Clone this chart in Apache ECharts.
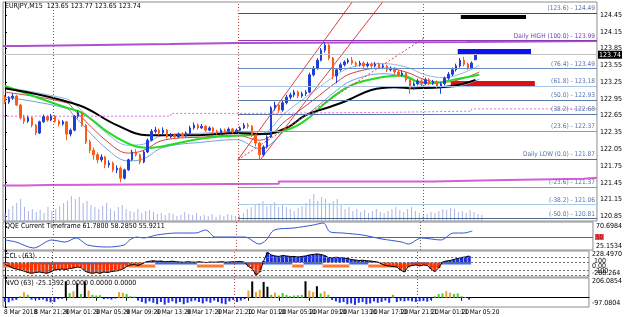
<!DOCTYPE html>
<html>
<head>
<meta charset="utf-8">
<script src="https://cdn.jsdelivr.net/npm/echarts@6.0.0/dist/echarts.min.js"></script>
<style>
html, body { margin: 0; padding: 0; background: #fff; }
#chart { width: 625px; height: 317px; }
</style>
</head>
<body>
<div id="chart"></div>
<script>
// bar slots incl. empty chart shift on the right
const slotCount = 154;
const slots = Array.from({ length: slotCount }, (_, i) => i);

const timeLabels = ['8 Mar 2018', '8 Mar 21:20', '9 Mar 01:20', '9 Mar 05:20', '9 Mar 09:20', '9 Mar 13:20',
  '9 Mar 17:20', '9 Mar 21:20', '10 Mar 01:20', '10 Mar 05:20', '10 Mar 09:20', '10 Mar 13:20',
  '10 Mar 17:20', '10 Mar 21:20', '11 Mar 01:20', '11 Mar 05:20'];
const labelStep = 8;

const priceTicks = [124.45, 124.15, 123.85, 123.55, 123.25, 122.95, 122.65, 122.35, 122.05, 121.75, 121.45, 121.15, 120.85];
const lastPrice = 123.74;

// [open, close, low, high]
const candles = [
  [122.98,122.89,122.86,123.02],[122.89,122.97,122.86,123.00],[122.97,123.00,122.93,123.05],[123.00,122.84,122.82,123.02],
  [122.84,122.61,122.58,122.86],[122.61,122.55,122.50,122.66],[122.55,122.61,122.52,122.65],[122.61,122.48,122.44,122.63],
  [122.48,122.34,122.30,122.50],[122.34,122.54,122.32,122.56],[122.54,122.63,122.52,122.67],[122.63,122.57,122.54,122.66],
  [122.57,122.64,122.55,122.68],[122.64,122.55,122.52,122.66],[122.55,122.50,122.46,122.58],[122.50,122.54,122.47,122.57],
  [122.54,122.32,122.21,122.55],[122.32,122.39,122.28,122.42],[122.39,122.64,122.37,122.66],[122.64,122.70,122.60,122.74],
  [122.70,122.48,122.45,122.72],[122.48,122.18,122.14,122.50],[122.18,122.03,121.98,122.22],[122.03,121.95,121.86,122.08],
  [121.95,121.86,121.80,121.99],[121.86,121.91,121.82,121.96],[121.91,121.77,121.71,121.93],[121.77,121.80,121.72,121.85],
  [121.80,121.68,121.64,121.83],[121.68,121.71,121.62,121.76],[121.71,121.53,121.46,121.74],[121.53,121.68,121.51,121.70],
  [121.68,121.86,121.66,121.88],[121.86,122.00,121.84,122.04],[122.00,121.95,121.92,122.05],[121.95,121.82,121.78,121.97],
  [121.82,122.00,121.80,122.03],[122.00,122.21,121.98,122.24],[122.21,122.37,122.19,122.41],[122.37,122.39,122.33,122.45],
  [122.39,122.34,122.30,122.42],[122.34,122.39,122.32,122.44],[122.39,122.27,122.24,122.41],[122.27,122.30,122.25,122.34],
  [122.30,122.27,122.23,122.33],[122.27,122.32,122.25,122.35],[122.32,122.29,122.26,122.35],[122.29,122.34,122.27,122.37],
  [122.34,122.43,122.32,122.47],[122.43,122.48,122.40,122.53],[122.48,122.43,122.40,122.51],[122.43,122.46,122.41,122.50],
  [122.46,122.39,122.36,122.48],[122.39,122.43,122.37,122.46],[122.43,122.37,122.34,122.45],[122.37,122.34,122.31,122.40],
  [122.34,122.39,122.32,122.42],[122.39,122.37,122.34,122.42],[122.37,122.41,122.35,122.44],[122.41,122.36,122.33,122.43],
  [122.36,122.39,122.34,122.42],[122.39,122.43,122.37,122.46],[122.43,122.48,122.41,122.52],[122.48,122.46,122.42,122.52],
  [122.46,122.30,122.27,122.48],[122.30,122.16,122.10,122.32],[122.16,121.95,121.86,122.18],[121.95,122.09,121.92,122.12],
  [122.09,122.27,122.06,122.30],[122.27,122.79,122.25,122.82],[122.79,122.84,122.74,122.90],[122.84,122.75,122.70,122.88],
  [122.75,122.88,122.72,122.92],[122.88,122.98,122.85,123.02],[122.98,123.02,122.94,123.06],[123.02,123.07,122.98,123.11],
  [123.07,123.00,122.96,123.10],[123.00,123.04,122.97,123.08],[123.04,123.07,123.00,123.11],[123.07,123.38,123.05,123.42],
  [123.38,123.50,123.35,123.54],[123.50,123.64,123.47,123.68],[123.64,123.82,123.62,123.86],[123.82,123.91,123.78,123.96],
  [123.91,123.68,123.64,123.93],[123.68,123.36,123.30,123.70],[123.36,123.47,123.23,123.50],[123.47,123.56,123.44,123.60],
  [123.56,123.61,123.53,123.64],[123.61,123.64,123.58,123.68],[123.64,123.59,123.56,123.70],[123.59,123.56,123.52,123.62],
  [123.56,123.59,123.53,123.63],[123.59,123.54,123.50,123.62],[123.54,123.57,123.51,123.61],[123.57,123.54,123.50,123.60],
  [123.54,123.57,123.51,123.61],[123.57,123.52,123.48,123.60],[123.52,123.54,123.49,123.58],[123.54,123.47,123.43,123.56],
  [123.47,123.50,123.44,123.53],[123.50,123.43,123.39,123.52],[123.43,123.38,123.34,123.46],[123.38,123.41,123.35,123.45],
  [123.41,123.29,123.25,123.43],[123.29,123.14,123.04,123.31],[123.14,123.22,123.11,123.26],[123.22,123.27,123.19,123.31],
  [123.27,123.22,123.18,123.30],[123.22,123.29,123.20,123.33],[123.29,123.23,123.19,123.32],[123.23,123.25,123.20,123.29],
  [123.25,123.18,123.14,123.28],[123.18,123.22,123.04,123.25],[123.22,123.32,123.19,123.35],[123.32,123.39,123.29,123.43],
  [123.39,123.47,123.36,123.51],[123.47,123.54,123.44,123.58],[123.54,123.64,123.51,123.68],[123.64,123.57,123.53,123.70],
  [123.57,123.50,123.47,123.60],[123.50,123.59,123.48,123.62],[123.65,123.74,123.65,123.77]
];

const volume = [8,12,15,18,22,14, 10,12,9,11,8,14,10, 12,15,18,20,25,22,24,18,
  20,16,14,12,15,18,12,10,14,16, 12,10,9,12,8,10,11,9,7,8, 6,8,7,5,6,9,7,6,8,5,
  6,5,7,4,6,5,7,6,5,6, 8,12,14,16,18,20,15,17,19,14, 16,14,12,10,13,15,18,22,27,20,
  24,22,18,20,22,16,12,14,10,12, 9,11,8,10,12,9,8,10,12,14, 11,9,12,14,10,8,6,7,9,8,
  10,12,11,13,12,9,10,8,11,9,7,6];

// moving averages, [bar, price]
const maSlow = [[0,123.14],[19,122.84],[29,122.48],[37,122.30],[50,122.30],[60,122.34],[67,122.32],[73,122.43],
  [78,122.66],[84,122.80],[89,122.93],[95,123.11],[101,123.16],[106,123.14],[116,123.18],[122,123.29]];
const maGreen = [[0,123.18],[16,122.79],[20,122.70],[27,122.34],[33,122.12],[37,122.07],[45,122.16],[52,122.25],
  [60,122.29],[67,122.32],[73,122.39],[78,122.57],[84,122.93],[90,123.20],[98,123.34],[103,123.37],[107,123.26],
  [111,123.23],[116,123.29],[123,123.38]];
const maRed = [[0,123.07],[16,122.88],[18,122.75],[27,122.16],[32,121.98],[36,122.03],[41,122.21],[52,122.27],
  [60,122.30],[66,122.21],[73,122.57],[80,122.93],[86,123.25],[90,123.41],[98,123.50],[104,123.43],[109,123.29],
  [114,123.25],[119,123.32],[123,123.43]];
const bandUpper = [[0,123.16],[16,122.95],[18,122.86],[27,122.30],[32,122.12],[36,122.14],[41,122.30],[52,122.34],
  [60,122.37],[66,122.33],[73,122.72],[80,123.08],[86,123.38],[90,123.52],[98,123.58],[104,123.52],[109,123.38],
  [114,123.33],[119,123.42],[123,123.55]];
const bandLower = [[0,122.98],[16,122.78],[18,122.64],[27,122.02],[32,121.84],[36,121.88],[41,122.08],[52,122.18],
  [60,122.22],[66,122.06],[73,122.40],[80,122.76],[86,123.10],[90,123.28],[98,123.40],[104,123.33],[109,123.18],
  [114,123.15],[119,123.20],[123,123.30]];

// stepped levels
const highSteps = [[-0.5,123.895],[4.4,123.913],[23.5,123.93],[42.7,123.95],[60.4,123.967],[119.7,123.985],[153.5,123.985]];
const lowSteps = [[-0.5,121.40],[5,121.41],[11,121.42],[34,121.43],[71,121.47],[111,121.50],[130,121.52],[150,121.54],[153.5,121.54]];
const pivotSteps = [[-0.5,122.64],[43,122.69],[63,122.71],[101,122.73],[121,122.77],[153.5,122.77]];

// fibo
const fibStart = 60.4;
const fibLevels = [124.49, 123.99, 123.49, 123.18, 122.93, 122.68, 122.37, 121.87, 121.37, 121.06, 120.81];
const fibNames = ['(123.6)', 'Daily HIGH (100.0)', '(76.4)', '(61.8)', '(50.0)', '(38.2)', '(23.6)',
  'Daily LOW (0.0)', '(-23.6)', '(-38.2)', '(-50.0)'];

const channelA = [[60.4,121.86],[90,124.68]];
const channelB = [[66.2,121.86],[97.9,124.68]];
const channelMid = [[60.4,121.86],[108.7,124.04]];

// [x1, x2, low, high]
const blackZone = [118.2, 135.1, 124.38, 124.45];
const blueZone = [117.4, 136.4, 123.75, 123.84];
const redZone = [115.6, 137.4, 123.18, 123.27];

const daySeps = [12.5, 60.4, 108.5];

// QQE
const qqe = [[0,44.3],[2.9,40.4],[7.5,29.0],[12.2,44.3],[15.7,40.4],[18.6,48.1],[21.6,34.7],[26.8,30.9],[31.1,34.7],
  [32.6,44.3],[34.4,50.0],[36.2,48.1],[39.6,53.8],[44.7,57.6],[49.8,57.6],[52.4,63.4],[54.9,50.0],[60,50.0],[62.6,50.0],
  [66.4,36.6],[68.2,44.3],[70.3,63.4],[75.4,67.2],[80.5,72.9],[83.1,76.8],[84.9,59.6],[88.2,57.6],[93.3,53.8],
  [98.4,46.2],[103.6,40.4],[105.3,36.6],[108.7,48.1],[113.8,44.3],[117.1,57.6],[119.7,57.6],[122,61.5]];
const qqeLevel = 50;
const qqeTicks = [70.6984, 25.1534];

// CCI
const cci = [-40,-70,-110,-130,-150, -170,-200,-215,-200,-190,-200,-215,-190, -150,-140,-130,-140,-120,-110, -90,-100,
  -170,-200,-215,-200,-215,-190,-200,-180, -170,-160,-130, -80,-50,-40,-60,-30,
  10,25,35,25,30,15,20,25,15, 10,5,15,10,5,15,5,0,10,5,10,15,5,10,15, 15,20,5,
  -80,-120,-245,-190,30,200,150, 130,120,140,130,120, 120,110,120,130, 150,160,170,160,140,
  100,90,105,95,90,80, 60,50,40,45,35,30,20,10, -30,-60,-70,-80,-90, -150,-190,
  -80,-60,-50,-70,-50,-60, -130,-180,-110, 10,30,40,60, 80,100,110,130];
const cciTrend = [[-0.5,6.5,-1],[6.5,32.5,1],[32.5,39.5,-1],[39.5,50.5,1],[50.5,57.5,-1],[57.5,75.5,1],[75.5,78.5,-1],
  [78.5,83.5,1],[83.5,90.5,-1],[90.5,95.5,1],[95.5,106.5,-1],[106.5,111.5,1],[111.5,114.5,-1],[114.5,122.5,1]];
const cciLevels = [100, 0, -150, -250];
const cciTicks = [228.497, 0, -288.264];
const cciTickText = ['228.4970', '0.00', '-288.264'];
const cciExtraTicks = [100, -100];

// NVO
const nvo = [-41,-48,-30,-23,15,58,30,-20,-15,-23,-19,-38,-48,-45,-15,-11,
  172,48,68,150,38,170,75,30,23,26,-15,-11,-19,-8,58,52,38,15,11,
  -30,-45,-60,-38,-53,-68,-45,-72,-53,-38,-60,-45,-68,-53,-38,-30,-45,-60,
  -38,-53,-30,-45,-60,-68,-38,-23,-45,-30, -15,
  75,170,60,83,165,115,30,53,23,49,30,19,23,26,30,172,75,60,120,45,68,30,
  -23,-38,-53,-45,-68,-60,-75,-53,-45,-68,-60,-38,-53,-45,-30,-53,29,-45,-30,-38,
  -30,-38,-45,-38,-34,-41,-23, 15,38,45,68,53,38,45,15,8,-20];
const nvoTicks = [206.0854, 0, -97.0804];
const nvoTickText = ['206.0854', '0.00', '-97.0804'];

const font = 'Liberation Sans Narrow, DejaVu Sans Condensed, Liberation Sans, sans-serif';
const chart = echarts.init(document.getElementById('chart'));

const sepLine = (x, k) => ({ xAxis: x, label: { show: false }, lineStyle: { color: k === 1 ? '#c05050' : '#606060', type: [1, 2], width: 1 } });
const shiftRich = {
  dn: { fontSize: 7, fontFamily: font, color: '#000', padding: [7, 0, 0, 0] },
  up: { fontSize: 7, fontFamily: font, color: '#000', padding: [0, 0, 7, 0] },
  md: { fontSize: 7, fontFamily: font, color: '#000' }
};
const rightAxis = (grid, min, max, ticks, fmt) => ({
  type: 'value', gridIndex: grid, position: 'right', min: min, max: max, scale: true,
  splitLine: { show: false },
  axisLine: { show: true, lineStyle: { color: '#000' } },
  axisTick: { show: true, length: 2, customValues: ticks, lineStyle: { color: '#000' } },
  axisLabel: {
    customValues: ticks, fontSize: 7, fontFamily: font, color: '#000', margin: 3, formatter: fmt, rich: shiftRich,
    showMinLabel: true, showMaxLabel: true, hideOverlap: false
  }
});
const plainLine = (data, color, width, extra) => Object.assign({
  type: 'line', xAxisIndex: 1, yAxisIndex: 0, data: data, showSymbol: false, symbol: 'none',
  lineStyle: { color: color, width: width }, silent: true, z: 3
}, extra || {});
const zoneArea = (z, color) => [{ coord: [z[0], z[3]], itemStyle: { color: color } }, { coord: [z[1], z[2]] }];
const fibColors = ['#4c4c6c', '#8a3ab9', '#6a8cc0', '#a8c4e4', '#5a78a8', '#5a78a8', '#8898d0', '#5a6a98', '#60a8c8', '#a8cce8', '#506890'];
const showTime = i => i % labelStep === 0 && i / labelStep < timeLabels.length;

const option = {
  animation: false,
  textStyle: { fontFamily: font },
  title: [
    { text: 'EURJPY,M15  123.65 123.77 123.65 123.74', left: 5, top: 3 },
    { text: 'QQE Current Timeframe 61.7800 58.2850 55.9211', left: 5, top: 223 },
    { text: 'CCI - (63)', left: 5, top: 253 },
    { text: 'NVO (63) -25.1392 0.0000 0.0000 0.0000', left: 5, top: 280 }
  ].map(t => Object.assign(t, { padding: 0, textStyle: { fontSize: 7, fontWeight: 'normal', color: '#000', fontFamily: font } })),
  grid: [
    { left: 3, right: 20, top: 2, height: 219, show: true, borderColor: '#8c8c8c' },
    { left: 3, right: 20, top: 222, height: 28, show: true, borderColor: '#8c8c8c' },
    { left: 3, right: 20, top: 251, height: 26, show: true, borderColor: '#8c8c8c' },
    { left: 3, right: 20, top: 278, height: 29, show: true, borderColor: '#8c8c8c' },
    { left: 3, right: 20, top: 186, height: 35 }
  ],
  xAxis: [
    { type: 'category', gridIndex: 0, data: slots, show: false },
    { type: 'value', gridIndex: 0, min: -0.5, max: slotCount - 0.5, show: false },
    { type: 'value', gridIndex: 1, min: -0.5, max: slotCount - 0.5, show: false },
    { type: 'category', gridIndex: 2, data: slots, show: false },
    { type: 'value', gridIndex: 2, min: -0.5, max: slotCount - 0.5, show: false },
    {
      type: 'category', gridIndex: 3, data: slots, position: 'bottom',
      axisLine: { show: true, lineStyle: { color: '#000' } },
      axisTick: { show: true, length: 3, alignWithLabel: true, interval: showTime, lineStyle: { color: '#000' } },
      axisLabel: { show: false }
    },
    { type: 'value', gridIndex: 3, min: -0.5, max: slotCount - 0.5, show: false },
    { type: 'category', gridIndex: 4, data: slots, show: false }
  ],
  yAxis: [
    rightAxis(0, 120.765, 124.683, priceTicks, v => '{md|' + v.toFixed(2) + '}'),
    rightAxis(1, 25.1534, 78.67, qqeTicks, v => v < 50 ? '{up|' + v.toFixed(4) + '}' : '{md|' + v.toFixed(4) + '}'),
    rightAxis(2, -288.264, 228.497, cciTicks, v => {
      const t = cciTickText[cciTicks.indexOf(v)] || String(v);
      return v < -200 ? '{up|' + t + '}' : '{dn|' + t + '}';
    }),
    rightAxis(3, -97.0804, 206.0854, nvoTicks, v => {
      const t = nvoTickText[nvoTicks.indexOf(v)] || String(v);
      return v > 100 ? '{dn|' + t + '}' : v < 0 ? '{up|' + t + '}' : '{md|' + t + '}';
    }),
    { type: 'value', gridIndex: 4, min: 0, max: 35, show: false }
  ],
  series: [
    {
      type: 'bar', xAxisIndex: 7, yAxisIndex: 4, data: volume, barWidth: 1,
      itemStyle: { color: '#a9b5e6' }, silent: true, z: 1
    },
    plainLine(bandUpper, '#8fb6e6', 1, { smooth: 0.4 }),
    plainLine(bandLower, '#6f9fdc', 1, { smooth: 0.4 }),
    plainLine(maRed, '#cc4444', 1, { smooth: 0.4 }),
    plainLine(maGreen, '#22dd22', 2, { smooth: 0.4 }),
    plainLine(maSlow, '#000000', 2, { smooth: 0.4 }),
    plainLine(highSteps, '#b050d0', 2, { step: 'end' }),
    plainLine(lowSteps, '#d060d8', 2, { step: 'end' }),
    plainLine(pivotSteps, '#e070e0', 1, { step: 'end', lineStyle: { color: '#e070e0', width: 1, type: [2, 2] } }),
    plainLine(channelA, '#e04040', 1),
    plainLine(channelB, '#e04040', 1),
    plainLine(channelMid, '#e04040', 1, { lineStyle: { color: '#e04040', width: 1, type: [2, 2] } }),
    {
      type: 'line', xAxisIndex: 1, yAxisIndex: 0, data: [], silent: true, z: 2,
      markLine: {
        silent: true, symbol: 'none', animation: false, label: { show: false },
        data: fibLevels.map((v, k) => [
          {
            coord: [fibStart, v], lineStyle: { color: fibColors[k], width: 1, type: 'solid' },
            label: { show: true, position: 'insideEndTop', distance: [2, 1], formatter: fibNames[k] + ' - ' + v.toFixed(2), fontSize: 6.5, fontFamily: font, color: k === 1 ? '#7040b0' : '#5474a8' }
          },
          { coord: [slotCount - 0.5, v] }
        ]).concat(daySeps.map(sepLine)).concat([{
          yAxis: lastPrice, lineStyle: { color: '#c0c0c0', width: 1, type: 'solid' },
          label: { show: true, position: 'end', distance: 1, formatter: lastPrice.toFixed(2), fontSize: 7, fontFamily: font, color: '#fff', backgroundColor: '#000', padding: [1, 1, 0, 1] }
        }])
      },
      markArea: {
        silent: true,
        data: [zoneArea(blackZone, '#000000'), zoneArea(blueZone, '#0a14f0'), zoneArea(redZone, '#e01010')]
      }
    },
    {
      type: 'candlestick', xAxisIndex: 0, yAxisIndex: 0, data: candles, barWidth: 2, silent: true, z: 4,
      itemStyle: { color: '#1f3dd8', color0: '#ff5a14', borderColor: '#1f3dd8', borderColor0: '#ff5a14', borderWidth: 1 }
    },
    {
      type: 'line', xAxisIndex: 2, yAxisIndex: 1, data: qqe, showSymbol: false, symbol: 'none', smooth: 0.3, silent: true,
      lineStyle: { color: '#3355cc', width: 1 },
      markLine: {
        silent: true, symbol: 'none', label: { show: false },
        data: [{
          yAxis: qqeLevel, lineStyle: { color: '#d03c3c', width: 1, type: 'solid' },
          label: { show: true, position: 'end', distance: 2, formatter: String(qqeLevel), fontSize: 6, fontFamily: font, color: '#600', backgroundColor: '#ff4a4a', padding: [0, 1] }
        }].concat(daySeps.map(sepLine))
      }
    },
    {
      type: 'bar', xAxisIndex: 3, yAxisIndex: 2, data: cci, barWidth: '85%', silent: true,
      itemStyle: { color: p => p.value < 0 ? '#ff3000' : '#1a30e0' }
    },
    {
      type: 'line', xAxisIndex: 4, yAxisIndex: 2, data: [], silent: true, z: 3,
      markArea: {
        silent: true,
        data: cciTrend.map(s => s[2] > 0
          ? [{ coord: [s[0], -40], itemStyle: { color: '#3a6cf0' } }, { coord: [s[1], 5] }]
          : [{ coord: [s[0], -100], itemStyle: { color: '#ff7a30' } }, { coord: [s[1], -40] }])
      },
      markLine: {
        silent: true, symbol: 'none', label: { show: false },
        data: cciLevels.map(v => ({ yAxis: v, lineStyle: { color: '#707070', width: 1, type: [2, 2] } })).concat(daySeps.map(sepLine))
      }
    },
    {
      type: 'line', xAxisIndex: 3, yAxisIndex: 2, data: cci, showSymbol: false, symbol: 'none', silent: true, z: 4,
      lineStyle: { color: '#000', width: 1 }
    },
    {
      type: 'bar', xAxisIndex: 5, yAxisIndex: 3, data: nvo, barWidth: 2, silent: true,
      itemStyle: { color: p => p.value >= 110 ? '#000000' : p.value >= 50 ? '#f0a030' : p.value >= 0 ? '#44cc33' : '#1d2fe0' }
    },
    {
      type: 'line', xAxisIndex: 6, yAxisIndex: 3, data: [], silent: true,
      markLine: { silent: true, symbol: 'none', label: { show: false }, data: daySeps.map(sepLine) }
    }
  ]
};

chart.setOption(option);

// time labels and crowded CCI labels, placed through the axes
const axisTextStyle = { fontSize: 6.5, fontFamily: font, fill: '#000' };
const bottomY = chart.convertToPixel({ yAxisIndex: 3 }, -97.0804);
const rightX = chart.convertToPixel({ xAxisIndex: 6 }, slotCount - 0.5);
chart.setOption({
  graphic: timeLabels.map((t, k) => ({
    type: 'text', silent: true,
    x: chart.convertToPixel({ xAxisIndex: 5 }, k * labelStep) - 1, y: bottomY + 2,
    style: Object.assign({ text: t, textAlign: 'left', textVerticalAlign: 'top' }, axisTextStyle)
  })).concat(cciExtraTicks.map(v => ({
    type: 'text', silent: true,
    x: rightX + 5, y: chart.convertToPixel({ yAxisIndex: 2 }, v),
    style: Object.assign({ text: String(v), textAlign: 'left', textVerticalAlign: 'top' }, axisTextStyle, { fontSize: 7 })
  })))
});
</script>
</body>
</html>
